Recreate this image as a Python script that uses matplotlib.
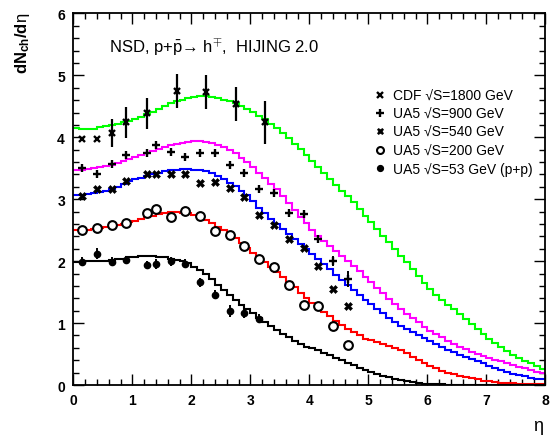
import matplotlib
matplotlib.use("Agg")
import matplotlib.pyplot as plt
import matplotlib.ticker as mticker
from matplotlib.lines import Line2D
import numpy as np

# --- HIJING 2.0 histograms, 80 bins of width 0.1 in eta (0..8) ---
ETA_MIN, ETA_MAX, NBINS = 0.0, 8.0, 80

hij_1800 = [
    4.15, 4.13, 4.13, 4.14, 4.16, 4.18, 4.20, 4.22, 4.24, 4.27,
    4.30, 4.33, 4.37, 4.41, 4.46, 4.51, 4.55, 4.58, 4.61, 4.63,
    4.65, 4.66, 4.66, 4.65, 4.63, 4.61, 4.58, 4.55, 4.51, 4.46,
    4.41, 4.35, 4.29, 4.22, 4.15, 4.07, 3.99, 3.90, 3.81, 3.71,
    3.61, 3.52, 3.42, 3.33, 3.23, 3.14, 3.05, 2.95, 2.84, 2.73,
    2.63, 2.52, 2.41, 2.31, 2.20, 2.09, 1.98, 1.87, 1.76, 1.65,
    1.55, 1.46, 1.38, 1.30, 1.22, 1.14, 1.06, 0.98, 0.90, 0.82,
    0.75, 0.68, 0.61, 0.55, 0.49, 0.44, 0.39, 0.35, 0.31, 0.26,
]
hij_900 = [
    3.48, 3.48, 3.49, 3.50, 3.52, 3.54, 3.56, 3.59, 3.62, 3.65,
    3.69, 3.72, 3.75, 3.78, 3.81, 3.84, 3.87, 3.89, 3.91, 3.93,
    3.94, 3.94, 3.93, 3.91, 3.88, 3.84, 3.79, 3.74, 3.67, 3.60,
    3.52, 3.43, 3.34, 3.25, 3.16, 3.05, 2.94, 2.83, 2.72, 2.61,
    2.50, 2.41, 2.33, 2.25, 2.17, 2.09, 2.01, 1.93, 1.84, 1.75,
    1.66, 1.57, 1.48, 1.39, 1.31, 1.23, 1.15, 1.08, 1.01, 0.94,
    0.88, 0.83, 0.77, 0.71, 0.66, 0.62, 0.58, 0.54, 0.50, 0.47,
    0.44, 0.41, 0.38, 0.35, 0.32, 0.29, 0.27, 0.24, 0.21, 0.19,
]
hij_540 = [
    3.07, 3.07, 3.08, 3.10, 3.12, 3.14, 3.17, 3.20, 3.25, 3.29,
    3.32, 3.35, 3.38, 3.41, 3.43, 3.45, 3.47, 3.48, 3.49, 3.49,
    3.48, 3.47, 3.45, 3.42, 3.38, 3.33, 3.27, 3.21, 3.14, 3.07,
    2.97, 2.86, 2.77, 2.68, 2.60, 2.52, 2.44, 2.36, 2.28, 2.20,
    2.12, 2.04, 1.96, 1.87, 1.78, 1.70, 1.62, 1.54, 1.46, 1.38,
    1.31, 1.23, 1.16, 1.09, 1.02, 0.96, 0.90, 0.85, 0.80, 0.76,
    0.71, 0.66, 0.61, 0.57, 0.53, 0.49, 0.45, 0.42, 0.38, 0.35,
    0.31, 0.27, 0.24, 0.21, 0.18, 0.16, 0.14, 0.12, 0.10, 0.09,
]
hij_200 = [
    2.50, 2.50, 2.51, 2.52, 2.53, 2.55, 2.56, 2.58, 2.60, 2.63,
    2.65, 2.68, 2.71, 2.73, 2.76, 2.78, 2.79, 2.79, 2.78, 2.77,
    2.75, 2.71, 2.66, 2.61, 2.55, 2.50, 2.44, 2.37, 2.29, 2.22,
    2.14, 2.06, 1.98, 1.90, 1.82, 1.74, 1.66, 1.58, 1.49, 1.40,
    1.32, 1.25, 1.18, 1.11, 1.04, 0.97, 0.91, 0.85, 0.80, 0.75,
    0.72, 0.69, 0.66, 0.63, 0.60, 0.56, 0.51, 0.46, 0.41, 0.36,
    0.31, 0.27, 0.23, 0.20, 0.17, 0.15, 0.13, 0.11, 0.09, 0.07,
    0.06, 0.05, 0.04, 0.03, 0.03, 0.02, 0.02, 0.01, 0.01, 0.01,
]
hij_53 = [
    1.99, 1.99, 2.00, 2.00, 2.01, 2.01, 2.02, 2.03, 2.04, 2.06,
    2.07, 2.08, 2.08, 2.08, 2.07, 2.06, 2.04, 2.02, 2.00, 1.97,
    1.91, 1.86, 1.79, 1.71, 1.62, 1.53, 1.45, 1.38, 1.30, 1.23,
    1.16, 1.09, 1.02, 0.95, 0.89, 0.83, 0.77, 0.71, 0.66, 0.62,
    0.59, 0.56, 0.52, 0.48, 0.44, 0.40, 0.36, 0.32, 0.28, 0.24,
    0.21, 0.18, 0.15, 0.13, 0.10, 0.08, 0.06, 0.05, 0.03, 0.02,
    0.02, 0.01, 0.01, 0.00, 0.00, 0.00, 0.00, 0.00, 0.00, 0.00,
    0.00, 0.00, 0.00, 0.00, 0.00, 0.00, 0.00, 0.00, 0.00, 0.00,
]

# --- measured data ---
eta_cdf = [0.15, 0.40, 0.65, 0.90, 1.25, 1.75, 2.25, 2.75, 3.25]
dn_cdf = [3.97, 3.98, 4.07, 4.24, 4.39, 4.75, 4.73, 4.54, 4.24]
err_cdf = [0.0, 0.0, 0.22, 0.25, 0.25, 0.27, 0.27, 0.27, 0.35]

eta_ua5 = [0.15, 0.40, 0.65, 0.90, 1.25, 1.40, 1.65, 1.90, 2.15, 2.40,
           2.65, 2.90, 3.15, 3.40, 3.65, 3.90, 4.15, 4.40, 4.65]
dn_900 = [3.50, 3.41, 3.57, 3.71, 3.74, 3.87, 3.76, 3.69, 3.74, 3.74,
          3.56, 3.43, 3.17, 3.10, 2.78, 2.76, 2.35, 2.01, 1.71]
err_900 = [0.04, 0.04, 0.04, 0.04, 0.04, 0.04, 0.04, 0.04, 0.04, 0.04,
           0.05, 0.05, 0.05, 0.05, 0.05, 0.05, 0.06, 0.08, 0.13]
dn_540 = [3.06, 3.17, 3.17, 3.30, 3.40, 3.41, 3.41, 3.41, 3.27, 3.28,
          3.18, 3.03, 2.74, 2.59, 2.35, 2.22, 1.93, 1.55, 1.28]
dn_200 = [2.50, 2.54, 2.59, 2.62, 2.78, 2.84, 2.72, 2.81, 2.73, 2.49,
          2.43, 2.24, 2.03, 1.91, 1.62, 1.30, 1.28, 0.95, 0.65]
eta_53 = eta_ua5[:13]
dn_53 = [1.99, 2.12, 1.99, 2.02, 1.94, 1.95, 2.00, 1.96, 1.66, 1.46,
         1.20, 1.17, 1.07]
err_53 = [0.07, 0.09, 0.07, 0.07, 0.07, 0.08, 0.07, 0.07, 0.07, 0.07,
          0.10, 0.08, 0.07]

legend_labels = [
    "CDF \u221aS=1800 GeV",
    "UA5 \u221aS=900 GeV",
    "UA5 \u221aS=540 GeV",
    "UA5 \u221aS=200 GeV",
    "UA5 \u221aS=53 GeV (p+p)",
]

plt.rcParams.update({
    "font.family": ["Liberation Sans", "DejaVu Sans"],
    "mathtext.fontset": "custom",
    "mathtext.rm": "Liberation Sans",
    "mathtext.it": "Liberation Sans:italic",
    "mathtext.bf": "Liberation Sans:bold",
})

fig = plt.figure(figsize=(5.5, 4.39), dpi=100)
ax = fig.add_axes([0.1333, 0.1207, 0.8585, 0.8463])

edges = np.linspace(ETA_MIN, ETA_MAX, NBINS + 1)
for vals, col in [(hij_1800, "#00ff00"), (hij_900, "#ff00ff"),
                  (hij_540, "#0000ff"), (hij_200, "#ff0000"),
                  (hij_53, "black")]:
    ax.stairs(vals, edges, baseline=None, color=col, lw=1.5, zorder=2)

# data points
ax.errorbar(eta_cdf, dn_cdf, yerr=err_cdf, fmt="x", color="black", ms=5,
            mew=1.7, elinewidth=1.6, capsize=0, zorder=4)
ax.errorbar(eta_ua5, dn_900, yerr=err_900, fmt="+", color="black", ms=6,
            mew=1.7, elinewidth=1.4, capsize=0, zorder=4)
ax.plot(eta_ua5, dn_540, "X", color="black", ms=5.5, mew=0.4, zorder=4)
ax.plot(eta_ua5, dn_200, "o", mfc="white", mec="black", ms=6.3, mew=1.5,
        zorder=4)
ax.errorbar(eta_53, dn_53, yerr=err_53, fmt="o", color="black", ms=4.5,
            elinewidth=1.4, capsize=0, zorder=4)

ax.set_xlim(ETA_MIN, ETA_MAX)
ax.set_ylim(0, 6)
ax.xaxis.set_major_locator(mticker.MultipleLocator(1))
ax.xaxis.set_minor_locator(mticker.MultipleLocator(0.2))
ax.yaxis.set_major_locator(mticker.MultipleLocator(1))
ax.yaxis.set_minor_locator(mticker.MultipleLocator(0.2))
ax.tick_params(which="both", direction="in", top=True, right=True,
               width=1.0, labelsize=10)
ax.tick_params(which="major", length=8, pad=6)
ax.tick_params(which="minor", length=4)
for lab in ax.get_xticklabels() + ax.get_yticklabels():
    lab.set_fontweight("bold")
for sp in ax.spines.values():
    sp.set_linewidth(1.3)

ax.text(0.0756, 0.912,
        "NSD, p+$\\bar{\\rm p}$\u2192 h$^{\\mp}$,  HIJING 2.0",
        transform=ax.transAxes, fontsize=12, va="center", ha="left")

handles = [
    Line2D([], [], ls="none", marker="x", color="black", ms=4.5, mew=1.7),
    Line2D([], [], ls="none", marker="+", color="black", ms=5.5, mew=1.7),
    Line2D([], [], ls="none", marker="X", color="black", ms=5, mew=0.4),
    Line2D([], [], ls="none", marker="o", mfc="white", mec="black", ms=5,
           mew=1.5),
    Line2D([], [], ls="none", marker="o", color="black", ms=4.2),
]
ax.legend(handles, legend_labels, loc="upper left",
          bbox_to_anchor=(0.635, 0.797), frameon=False, fontsize=10,
          handlelength=1.0, handletextpad=0.4, labelspacing=0.3,
          borderpad=0, borderaxespad=0)

fig.text(22 / 550, 1 - 13 / 439, "$\\mathbf{dN_{ch}/d}$\u03b7",
         rotation=90, ha="center", va="top", fontsize=12)
fig.text(538 / 550, 1 - 427 / 439, "\u03b7", ha="center", va="center",
         fontsize=13)

fig.savefig("out.png", dpi=100, facecolor="white")
